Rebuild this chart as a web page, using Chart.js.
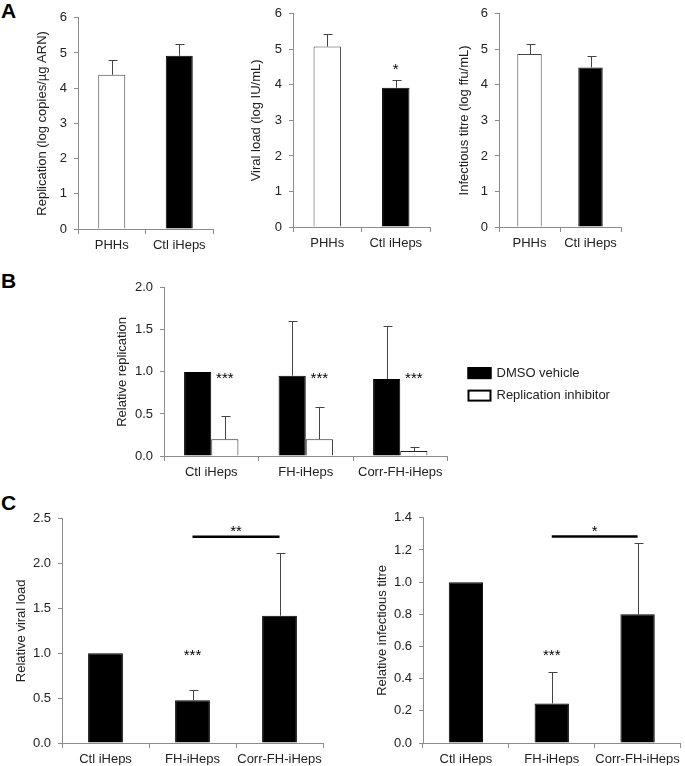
<!DOCTYPE html>
<html>
<head>
<meta charset="utf-8">
<script src="https://cdn.jsdelivr.net/npm/chart.js@4.4.1/dist/chart.umd.min.js"></script>
<style>
  body { margin: 0; background: #fff; width: 685px; height: 766px; position: relative; overflow: hidden;
         font-family: "Liberation Sans", Arial, sans-serif; }
  canvas { position: absolute; }
  .tag { position: absolute; left: 1px; font-weight: bold; font-size: 21px; line-height: 21px; color: #000; }
</style>
</head>
<body>
<div class="tag" style="top:0px">A</div>
<div class="tag" style="top:270px">B</div>
<div class="tag" style="top:492px">C</div>

<canvas id="a1"></canvas>
<canvas id="a2"></canvas>
<canvas id="a3"></canvas>
<canvas id="b"></canvas>
<canvas id="c1"></canvas>
<canvas id="c2"></canvas>

<script>
// panel A
const cellsA = ["PHHs", "Ctl iHeps"];
const replicationLog = [4.38, 4.92];
const replicationLogErr = [0.42, 0.34];
const viralLoadLog = [5.08, 3.92];
const viralLoadLogErr = [0.35, 0.21];
const titreLog = [4.87, 4.49];
const titreLogErr = [0.29, 0.31];

// panel B
const cellsB = ["Ctl iHeps", "FH-iHeps", "Corr-FH-iHeps"];
const dmsoRep = [1.0, 0.955, 0.917];
const dmsoRepErr = [0, 0.645, 0.625];
const inhibRep = [0.2, 0.2, 0.06];
const inhibRepErr = [0.27, 0.385, 0.05];

// panel C
const cellsC = ["Ctl iHeps", "FH-iHeps", "Corr-FH-iHeps"];
const relViralLoad = [1.0, 0.476, 1.419];
const relViralLoadErr = [0, 0.118, 0.70];
const relTitre = [1.0, 0.246, 0.80];
const relTitreErr = [0, 0.197, 0.444];

Chart.defaults.font.family = '"Liberation Sans", Arial, sans-serif';
Chart.defaults.font.size = 13;
Chart.defaults.color = "#222";
Chart.defaults.animation = false;

const axisColor = "#8c8c8c";

// size and place a canvas so the chart area lands on the given box
function place(id, area, yw, xh, padRight) {
  const padTop = 12;
  const c = document.getElementById(id);
  const left = Math.round(area.l - yw), top = Math.round(area.t - padTop);
  const w = Math.round(area.r + padRight) - left;
  const h = Math.round(area.b + xh) - top;
  c.style.left = left + "px";
  c.style.top = top + "px";
  c.style.width = w + "px";
  c.style.height = h + "px";
  c.width = w;
  c.height = h;
  return { left: 0, top: padTop, right: padRight, bottom: 0 };
}

function scales(max, step, decimals, title, yw, xh) {
  return {
    x: {
      grid: { drawOnChartArea: false, tickLength: 5, color: axisColor, offset: true },
      border: { color: axisColor },
      ticks: { padding: 4, color: "#222", maxRotation: 0, minRotation: 0, autoSkip: false },
      afterFit: s => { s.height = xh; }
    },
    y: {
      min: 0, max: max,
      ticks: { stepSize: step, padding: 7, color: "#222", callback: v => Number(v).toFixed(decimals) },
      grid: { drawOnChartArea: false, tickLength: 4, color: axisColor },
      border: { color: axisColor },
      title: { display: true, text: title, padding: 0, color: "#222" },
      afterFit: s => { s.width = yw; }
    }
  };
}

const errorBars = {
  id: "errorBars",
  afterDatasetsDraw(chart) {
    const ctx = chart.ctx, y = chart.scales.y;
    chart.data.datasets.forEach((ds, di) => {
      if (!ds.errors) return;
      chart.getDatasetMeta(di).data.forEach((bar, i) => {
        const e = ds.errors[i];
        if (!e) return;
        const x = Math.round(bar.x) + 0.5;
        const top = Math.round(y.getPixelForValue(ds.data[i] + e)) + 0.5;
        ctx.save();
        ctx.strokeStyle = "#444";
        ctx.lineWidth = 1;
        ctx.beginPath();
        ctx.moveTo(x, bar.y);
        ctx.lineTo(x, top);
        ctx.moveTo(x - 4, top);
        ctx.lineTo(x + 5, top);
        ctx.stroke();
        ctx.restore();
      });
    });
  }
};

const marks = {
  id: "marks",
  afterDatasetsDraw(chart, args, opts) {
    const ctx = chart.ctx, y = chart.scales.y;
    const barX = (ds, i) => chart.getDatasetMeta(ds).data[i].x;
    const star = (text, x, v) => {
      ctx.font = "15px 'Liberation Sans', Arial, sans-serif";
      ctx.fillStyle = "#000";
      ctx.textAlign = "center";
      ctx.textBaseline = "alphabetic";
      ctx.fillText(text, x, y.getPixelForValue(v) + 8.7);
    };
    ctx.save();
    (opts.stars || []).forEach(s => star(s.text, barX(s.ds, s.cat), s.value));
    (opts.brackets || []).forEach(b => {
      const x0 = barX(0, b.from), x1 = barX(0, b.to);
      const py = y.getPixelForValue(b.value);
      ctx.strokeStyle = "#000";
      ctx.lineWidth = 2.5;
      ctx.beginPath();
      ctx.moveTo(x0, py);
      ctx.lineTo(x1, py);
      ctx.stroke();
      star(b.text, (x0 + x1) / 2, b.textValue);
    });
    ctx.restore();
  }
};

const boxLegend = {
  id: "boxLegend",
  afterDraw(chart, args, opts) {
    if (!opts.show) return;
    const ctx = chart.ctx, a = chart.chartArea;
    ctx.save();
    chart.data.datasets.forEach((ds, i) => {
      const x = a.right + opts.dx, cy = a.top + opts.dy + i * opts.gap;
      ctx.fillStyle = ds.backgroundColor;
      ctx.fillRect(x, cy - 6, 24, 12);
      ctx.strokeStyle = "#000";
      ctx.lineWidth = 2;
      ctx.strokeRect(x + 1, cy - 5, 22, 10);
      ctx.fillStyle = "#222";
      ctx.font = "13px 'Liberation Sans', Arial, sans-serif";
      ctx.textAlign = "left";
      ctx.textBaseline = "middle";
      ctx.fillText(ds.label, x + 29, cy);
    });
    ctx.restore();
  }
};

function barChart(id, area, yw, xh, padRight, labels, datasets, sc, extra) {
  const padding = place(id, area, yw, xh, padRight);
  return new Chart(document.getElementById(id), {
    type: "bar",
    data: { labels, datasets },
    options: {
      responsive: false,
      devicePixelRatio: 1,
      layout: { padding },
      scales: sc,
      plugins: Object.assign({ legend: { display: false }, tooltip: { enabled: false } }, extra || {})
    },
    plugins: [errorBars, marks, boxLegend]
  });
}

const white = "#fff", black = "#000";

function pairSet(values, errors) {
  return [{
    data: values, errors,
    backgroundColor: [white, black],
    borderColor: ["#444", black],
    borderWidth: 1,
    barPercentage: 0.4, categoryPercentage: 1
  }];
}

barChart("a1", { l: 78, r: 213, t: 14.7, b: 229.3 }, 43, 30, 5, cellsA,
  pairSet(replicationLog, replicationLogErr),
  scales(6, 1, 0, "Replication (log copies/\u00b5g ARN)", 43, 30));

barChart("a2", { l: 293, r: 430, t: 11, b: 226.7 }, 44, 30, 5, cellsA,
  pairSet(viralLoadLog, viralLoadLogErr),
  scales(6, 1, 0, "Viral load (log IU/mL)", 44, 30),
  { marks: { stars: [{ ds: 0, cat: 1, value: 4.55, text: "*" }] } });

barChart("a3", { l: 499, r: 621, t: 11, b: 226.7 }, 42, 30, 5, cellsA,
  pairSet(titreLog, titreLogErr),
  scales(6, 1, 0, "Infectious titre (log ffu/mL)", 42, 30));

barChart("b", { l: 164, r: 447.5, t: 284.7, b: 455.7 }, 49, 30, 237.5, cellsB,
  [
    { label: "DMSO vehicle", data: dmsoRep, errors: dmsoRepErr, backgroundColor: black,
      borderColor: black, borderWidth: 1, barPercentage: 1, categoryPercentage: 0.575 },
    { label: "Replication inhibitor", data: inhibRep, errors: inhibRepErr, backgroundColor: white,
      borderColor: "#222", borderWidth: 1, barPercentage: 1, categoryPercentage: 0.575 }
  ],
  scales(2, 0.5, 1, "Relative replication", 49, 30),
  {
    marks: { stars: [0, 1, 2].map(i => ({ ds: 1, cat: i, value: 0.967, text: "***" })) },
    boxLegend: { show: true, dx: 20, dy: 85.3, gap: 22.5 }
  });

function blackSet(values, errors) {
  return [{
    data: values, errors,
    backgroundColor: black, borderColor: black, borderWidth: 1,
    barPercentage: 0.4, categoryPercentage: 1
  }];
}

barChart("c1", { l: 62, r: 323, t: 516, b: 743.3 }, 48, 22, 5, cellsC,
  blackSet(relViralLoad, relViralLoadErr),
  scales(2.5, 0.5, 1, "Relative viral load", 48, 22),
  { marks: {
      stars: [{ ds: 0, cat: 1, value: 1.02, text: "***" }],
      brackets: [{ from: 1, to: 2, value: 2.30, text: "**", textValue: 2.40 }]
  } });

barChart("c2", { l: 423, r: 683, t: 515.3, b: 742.7 }, 48, 22, 1, cellsC,
  blackSet(relTitre, relTitreErr),
  scales(1.4, 0.2, 1, "Relative infectious titre", 48, 22),
  { marks: {
      stars: [{ ds: 0, cat: 1, value: 0.571, text: "***" }],
      brackets: [{ from: 1, to: 2, value: 1.284, text: "*", textValue: 1.34 }]
  } });
</script>
</body>
</html>
